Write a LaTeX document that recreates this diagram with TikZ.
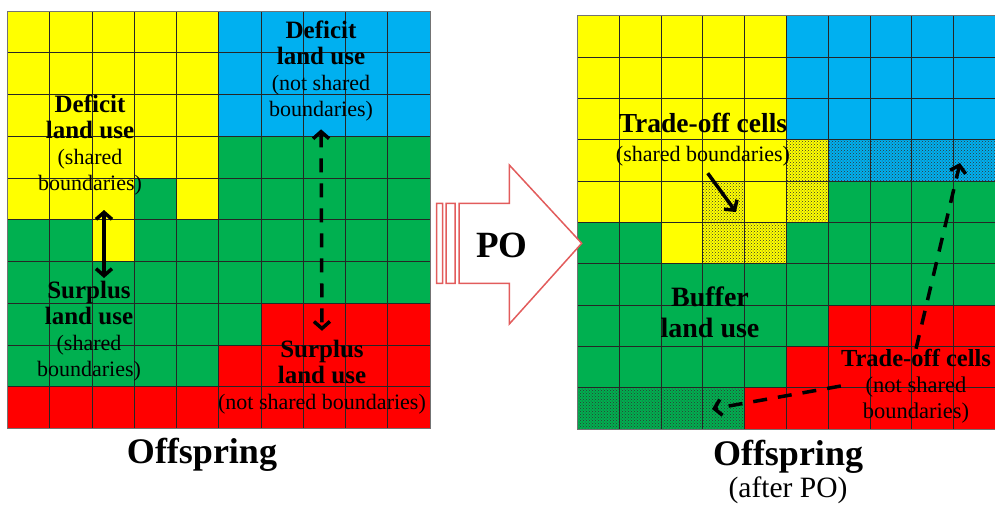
\documentclass[tikz,border=0pt]{standalone}
\usepackage{fontspec}
\setmainfont{Liberation Serif}
\usetikzlibrary{arrows.meta,patterns}

\definecolor{luyellow}{RGB}{255,255,0}
\definecolor{lublue}{RGB}{0,176,240}
\definecolor{lugreen}{RGB}{0,176,80}
\definecolor{lured}{RGB}{255,0,0}
\definecolor{poline}{RGB}{226,92,92}

\newcommand\lbold[2][25]{{\fontsize{#1}{26}\selectfont\bfseries #2}}

\tikzset{
  land Y/.style={fill=luyellow},
  land B/.style={fill=lublue},
  land G/.style={fill=lugreen},
  land R/.style={fill=lured},
  land y/.style={preaction={fill=luyellow},pattern=crosshatch dots,pattern color=black!80},
  land b/.style={preaction={fill=lublue},pattern=crosshatch dots,pattern color=black!80},
  land g/.style={preaction={fill=lugreen},pattern=crosshatch dots,pattern color=black!80},
  cellline/.style={draw=black!85,line width=0.8pt},
  gridframe/.style={draw=black!55,line width=1pt},
  landlabel/.style={align=center,inner sep=0pt,font=\fontsize{22}{26}\selectfont},
  movearrow/.style={line width=3.5pt},
  dashline/.style={dash pattern=on 14pt off 11pt},
}

\begin{document}
\begin{tikzpicture}[x=1pt,y=-1pt,>={Straight Barb[length=7pt,width=16pt]}]
\useasboundingbox (0,0) rectangle (995,509);
% offspring
\begin{scope}[shift={(7.5,11)}]
\def\cw{42.25}\def\ch{41.75}
\foreach \r/\cells in {0/{Y,Y,Y,Y,Y,B,B,B,B,B},1/{Y,Y,Y,Y,Y,B,B,B,B,B},
    2/{Y,Y,Y,Y,Y,B,B,B,B,B},3/{Y,Y,Y,Y,Y,G,G,G,G,G},4/{Y,Y,Y,G,Y,G,G,G,G,G},
    5/{G,G,Y,G,G,G,G,G,G,G},6/{G,G,G,G,G,G,G,G,G,G},7/{G,G,G,G,G,G,R,R,R,R},
    8/{G,G,G,G,G,R,R,R,R,R},9/{R,R,R,R,R,R,R,R,R,R}}
  \foreach \c [count=\i from 0] in \cells
    \path[land \c] (\i*\cw,\r*\ch) rectangle ++(\cw,\ch);
\foreach \k in {1,...,9} {
  \draw[cellline] (\k*\cw,0) -- (\k*\cw,10*\ch);
  \draw[cellline] (0,\k*\ch) -- (10*\cw,\k*\ch);
}
\draw[gridframe] (0,0) rectangle (10*\cw,10*\ch);
\end{scope}
% offspring after PO
\begin{scope}[shift={(577.3,15.7)}]
\def\cw{41.8}\def\ch{41.35}
\foreach \r/\cells in {0/{Y,Y,Y,Y,Y,B,B,B,B,B},1/{Y,Y,Y,Y,Y,B,B,B,B,B},
    2/{Y,Y,Y,Y,Y,B,B,B,B,B},3/{Y,Y,Y,Y,Y,y,b,b,b,b},4/{Y,Y,Y,y,Y,y,G,G,G,G},
    5/{G,G,Y,y,y,G,G,G,G,G},6/{G,G,G,G,G,G,G,G,G,G},7/{G,G,G,G,G,G,R,R,R,R},
    8/{G,G,G,G,G,R,R,R,R,R},9/{g,g,g,g,R,R,R,R,R,R}}
  \foreach \c [count=\i from 0] in \cells
    \path[land \c] (\i*\cw,\r*\ch) rectangle ++(\cw,\ch);
\foreach \k in {1,...,9} {
  \draw[cellline] (\k*\cw,0) -- (\k*\cw,10*\ch);
  \draw[cellline] (0,\k*\ch) -- (10*\cw,\k*\ch);
}
\draw[gridframe] (0,0) rectangle (10*\cw,10*\ch);
\end{scope}

% PO arrow
\filldraw[draw=poline,fill=white,line width=1.5pt]
  (459,203.3) -- (509.3,203.3) -- (509.3,165) -- (581.7,243.3) -- (509.3,324)
  -- (509.3,283.3) -- (459,283.3) -- cycle
  (436.7,203.3) rectangle (442.7,283.3)
  (446,203.3) rectangle (455,283.3);
\node[font=\fontsize{37}{40}\selectfont\bfseries] (po) at (502,245) {PO};

% labels, left
\node[landlabel] (defY) at (90,145) {\lbold{Deficit}\\\lbold{land use}\\(shared\\boundaries)};
\node[landlabel] (defB) at (321,71) {\lbold{Deficit}\\\lbold{land use}\\(not shared\\boundaries)};
\node[landlabel] (surG) at (89,331) {\lbold{Surplus}\\\lbold{land use}\\(shared\\boundaries)};
\node[landlabel] (surR) at (322,377) {\lbold{Surplus}\\\lbold{land use}\\(not shared boundaries)};
\coordinate (swapA) at (104,210);
\coordinate (swapB) at (104,278);
\draw[movearrow,<->] (swapA) -- (swapB);
\draw[movearrow,dashline,<->,shorten <=8pt,shorten >=9pt] (defB.south) -- (surR.north);

% labels, right
\node[landlabel,font=\fontsize{22}{29}\selectfont] (tradeS) at (703,140)
  {\lbold[27.5]{Trade-off cells}\\(shared boundaries)};
\node[landlabel,font=\fontsize{28}{31}\selectfont\bfseries] (buffer) at (710,312) {Buffer\\land use};
\node[landlabel,font=\fontsize{22.5}{26}\selectfont] (tradeN) at (916,386)
  {\lbold[24.5]{Trade-off cells}\\(not shared\\boundaries)};
\coordinate (hatchY) at (736,212);
\coordinate (hatchB) at (960,163);
\coordinate (hatchG) at (712,409);
\draw[movearrow,->,shorten <=8pt] (tradeS.south) -- (hatchY);
\draw[movearrow,dashline,->] (tradeN.north) -- (hatchB);
\draw[movearrow,dashline,->] (tradeN.west) -- (hatchG);

% titles
\node[font=\fontsize{36}{40}\selectfont\bfseries,anchor=base] (offL) at (202,463) {Offspring};
\node[font=\fontsize{36}{40}\selectfont\bfseries,anchor=base] (offR) at (788,465.5) {Offspring};
\node[font=\fontsize{29.5}{32}\selectfont,anchor=base] (afterPO) at (788,497) {(after PO)};
\end{tikzpicture}
\end{document}
